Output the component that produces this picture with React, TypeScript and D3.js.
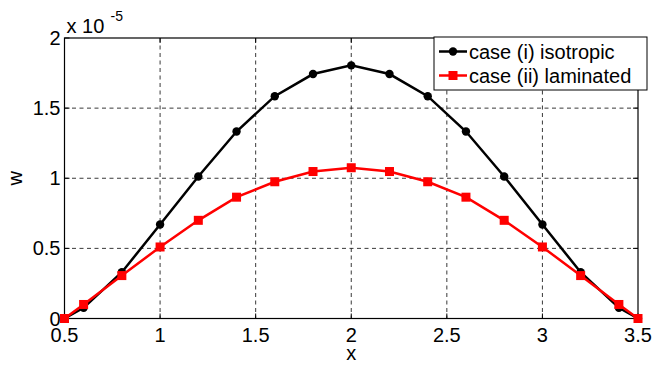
import React from 'react'
import * as d3 from 'd3'

const xs = [0.5, 0.6, 0.8, 1.0, 1.2, 1.4, 1.6, 1.8, 2.0, 2.2, 2.4, 2.6, 2.8, 3.0, 3.2, 3.4, 3.5]
const isotropic = [0, 0.076, 0.33, 0.67, 1.013, 1.333, 1.585, 1.743, 1.805, 1.743, 1.585, 1.333, 1.013, 0.67, 0.33, 0.076, 0]
const laminated = [0, 0.1, 0.306, 0.51, 0.7, 0.865, 0.975, 1.048, 1.075, 1.048, 0.975, 0.865, 0.7, 0.51, 0.306, 0.1, 0]
const xTicks = [0.5, 1, 1.5, 2, 2.5, 3, 3.5]
const yTicks = [0, 0.5, 1, 1.5, 2]
const seriesNames = ['case (i) isotropic', 'case (ii) laminated']

const W = 654
const H = 365
const m = { left: 64.5, right: 638, top: 38, bottom: 318.5 }
const font = 'Liberation Sans, Arial, Helvetica, sans-serif'

export default function App() {
  const x = d3.scaleLinear().domain([0.5, 3.5]).range([m.left, m.right])
  const y = d3.scaleLinear().domain([0, 2]).range([m.bottom, m.top])
  const line = d3.line<number>().x((_, i) => x(xs[i])).y(d => y(d))

  return (
    <svg width={W} height={H} style={{ position: 'absolute', left: 0, top: 0, background: '#fff' }}
      fontFamily={font}>
      <rect x={0} y={0} width={W} height={H} fill="#fff" />
      {/* grid */}
      {xTicks.slice(1, -1).map(t => (
        <line key={'gx' + t} x1={x(t)} x2={x(t)} y1={m.top} y2={m.bottom}
          stroke="#222" strokeWidth={0.9} strokeDasharray="4,3.5" />
      ))}
      {yTicks.slice(1, -1).map(t => (
        <line key={'gy' + t} x1={m.left} x2={m.right} y1={y(t)} y2={y(t)}
          stroke="#222" strokeWidth={0.9} strokeDasharray="4,3.5" />
      ))}
      {/* ticks */}
      {xTicks.map(t => (
        <g key={'tx' + t}>
          <line x1={x(t)} x2={x(t)} y1={m.bottom} y2={m.bottom - 5} stroke="#000" />
          <line x1={x(t)} x2={x(t)} y1={m.top} y2={m.top + 5} stroke="#000" />
          <text x={x(t)} y={m.bottom + 23} fontSize={20} textAnchor="middle">{t}</text>
        </g>
      ))}
      {yTicks.map(t => (
        <g key={'ty' + t}>
          <line x1={m.left} x2={m.left + 5} y1={y(t)} y2={y(t)} stroke="#000" />
          <line x1={m.right} x2={m.right - 5} y1={y(t)} y2={y(t)} stroke="#000" />
          <text x={m.left - 4} y={y(t) + 7} fontSize={20} textAnchor="end">{t}</text>
        </g>
      ))}
      <rect x={m.left} y={m.top} width={m.right - m.left} height={m.bottom - m.top}
        fill="none" stroke="#000" strokeWidth={1.2} />
      <text x={m.left + 2} y={m.top - 5} fontSize={20}>x 10</text>
      <text x={m.left + 46} y={m.top - 17} fontSize={14}>-5</text>
      <text x={(m.left + m.right) / 2} y={360} fontSize={20} textAnchor="middle">x</text>
      <text transform={`translate(22,${y(1)}) rotate(-90)`} fontSize={20} textAnchor="middle">w</text>

      {/* series */}
      <path d={line(isotropic) || ''} fill="none" stroke="#000" strokeWidth={2.5} />
      {isotropic.map((v, i) => (
        <circle key={'c' + i} cx={x(xs[i])} cy={y(v)} r={4.2} fill="#000" />
      ))}
      <path d={line(laminated) || ''} fill="none" stroke="#ff0000" strokeWidth={2.5} />
      {laminated.map((v, i) => (
        <rect key={'s' + i} x={x(xs[i]) - 4.5} y={y(v) - 4.5} width={9} height={9} fill="#ff0000" />
      ))}

      {/* legend */}
      <rect x={434} y={37} width={213} height={53} fill="#fff" stroke="#000" strokeWidth={1} />
      {seriesNames.map((name, i) => {
        const ly = 51.5 + i * 24
        const c = i === 0 ? '#000' : '#ff0000'
        return (
          <g key={name}>
            <line x1={439} x2={467} y1={ly} y2={ly} stroke={c} strokeWidth={2.5} />
            {i === 0
              ? <circle cx={453} cy={ly} r={4.2} fill={c} />
              : <rect x={448.5} y={ly - 4.5} width={9} height={9} fill={c} />}
            <text x={469} y={ly + 7} fontSize={20}>{name}</text>
          </g>
        )
      })}
    </svg>
  )
}
